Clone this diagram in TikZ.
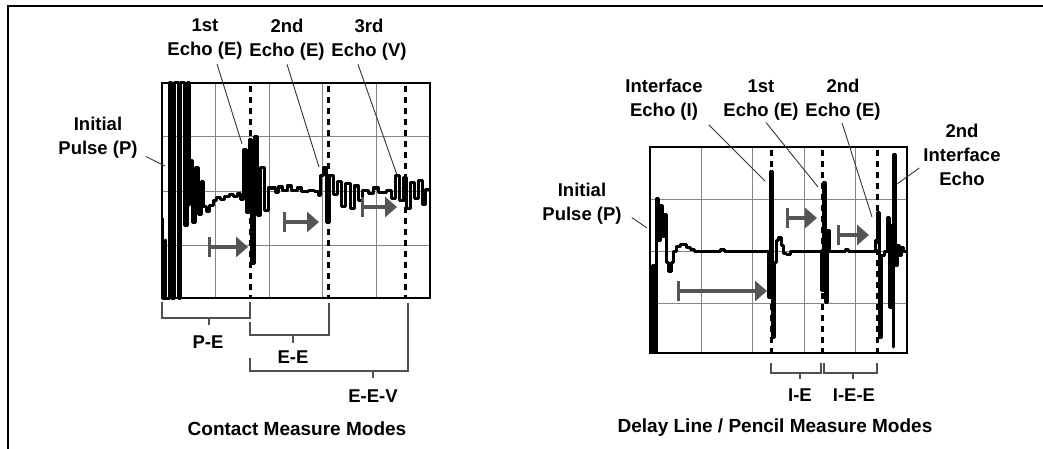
\documentclass[tikz,border=0pt]{standalone}
\usepackage{fontspec}
\setmainfont{Liberation Sans}
\usetikzlibrary{arrows.meta}
\definecolor{gridgray}{HTML}{858585}
\definecolor{arrowgray}{HTML}{555555}
\definecolor{brackgray}{HTML}{505050}
\tikzset {
  every node/.style={font=\bfseries\fontsize{18.5}{24}\selectfont, align=center, inner sep=0pt},
  heading/.style={font=\bfseries\fontsize{19}{23}\selectfont},
  gridline/.style={gridgray, line width=1pt},
  scopebox/.style={draw=black, line width=1.5pt},
  echomark/.style={line width=3pt, dash pattern=on 6pt off 5pt},
  signal/.style={line width=3pt, line join=round},
  travel/.style={arrowgray, line width=4.5pt,
    {Bar[width=20pt,line width=3pt]}-{Triangle[length=12pt,width=20pt]}},
  leader/.style={line width=0.9pt, black!80},
  bracket/.style={brackgray, line width=1.3pt},
}

\begin{document}
\begin{tikzpicture}[x=1pt,y=-1pt]
  \useasboundingbox (0,0) rectangle (1043,449);
  \draw[line width=2.5pt] (8,449) -- (8,6) -- (1043,6);

  % contact scope
  \foreach \i in {1,...,4}
    \draw[gridline] (162+53.6*\i,83) -- ++(0,215);
  \foreach \y in {137,191,245}
    \draw[gridline] (162,\y) -- ++(268,0);
  \draw[signal] plot coordinates {
    (162,218) (162,298) (165.5,298) (165.5,240) (165.5,298) (169,298) (169,83) (171.5,83)
    (171.5,298) (174,298) (174,83) (178,83) (178,298) (180.5,298) (180.5,83) (184.5,83)
    (184.5,225) (187,225) (187,83) (189.5,83) (189.5,205) (189.5,161) (192.5,161) (192.5,222)
    (195.5,222) (195.5,168) (198.5,168) (198.5,214) (201,214) (201,182) (203.5,182) (203.5,206)
    (206,206) (206,211) (209,211) (209,205) (213,205) (213,200) (216,200) (216,197) (220,197)
    (220,199) (224,199) (224,196) (229,196) (229,194) (233,194) (233,196) (237,196) (237,193)
    (240,193) (240,199) (243,199)
    (243,150) (246,150) (246,212) (249,212) (249,140) (251,140) (251,263) (254,263)
    (254,137) (257,137) (257,215) (260,215) (260,168) (264,168) (264,210) (268,210)
    (268,188) (275,188) (275,192) (278,192) (278,187)
    (282,187) (282,190) (287,190) (287,186) (291,186) (291,190) (297,190) (297,188) (301,188)
    (301,191) (308,191) (308,190) (314,190) (314,191) (318,191) (318,195) (320,195)
    (320,176) (323,176) (323,168) (326,168) (326,222) (329,222) (329,176) (333,176)
    (333,194) (337,194) (337,182) (341,182) (341,206) (345,206) (345,184) (350,184)
    (350,208) (354,208) (354,186) (358,186) (358,200) (362,200) (362,190) (368,190)
    (368,193) (373,193) (373,188) (378,188) (378,192) (386,192) (386,190) (391,190)
    (391,198) (395,198) (395,176) (399,176) (399,200) (403,200) (403,178) (406,178)
    (406,208) (410,208) (410,183) (414,183) (414,198) (418,198) (418,181) (422,181)
    (422,204) (425,204) (425,189) (429,189)
  };
  \foreach \x in {250,328,405}
    \draw[echomark] (\x,86) -- (\x,298);
  \draw[travel] (208,247) -- (248,247);
  \draw[travel] (283,222) -- (319,222);
  \draw[travel] (361,207) -- (397,207);
  \draw[scopebox] (162,83) rectangle (430,298);

  \node (lfirst) at (205,39.5) {1st\\Echo (E)};
  \node (lsecond) at (287,39.5) {2nd\\Echo (E)};
  \node (lthird) at (369,39.5) {3rd\\Echo (V)};
  \node (linit) at (98,137.5) {Initial\\Pulse (P)};
  \coordinate (lfirstpk) at (242,144);
  \coordinate (lsecondpk) at (319,167);
  \coordinate (lthirdpk) at (397,175);
  \coordinate (linitpk) at (165,166);
  \draw[leader] ([xshift=12pt,yshift=-4pt]lfirst.south) -- (lfirstpk);
  \draw[leader] ([yshift=-4pt]lsecond.south) -- (lsecondpk);
  \draw[leader] ([xshift=-11pt,yshift=-4pt]lthird.south) -- (lthirdpk);
  \draw[leader] ([xshift=8pt,yshift=-19pt]linit.east) -- (linitpk);

  \draw[bracket] (162,302) -- (162,318) -- (250,318) -- (250,302);
  \draw[bracket] (209,318) -- (209,325);
  \draw[bracket] (250,322) -- (250,335) -- (329,335) -- (329,303);
  \draw[bracket] (293,335) -- (293,343);
  \draw[bracket] (250,358) -- (250,371) -- (408,371) -- (408,303);
  \draw[bracket] (373,371) -- (373,378);
  \node (pe) at (208,342) {P-E};
  \node (ee) at (293,357) {E-E};
  \node (eev) at (373,396) {E-E-V};
  \node[heading] (contact) at (297,429) {Contact Measure Modes};

  % delay line scope
  \foreach \i in {1,...,4}
    \draw[gridline] (650+51.4*\i,147) -- ++(0,206);
  \foreach \y in {199,251,303}
    \draw[gridline] (650,\y) -- ++(257,0);
  \draw[signal] plot coordinates {
    (650,265) (650,352) (652,352) (652,265) (654,265) (654,352) (656,352) (656,198)
    (658,198) (658,240) (660,240) (660,205) (662,205) (662,236) (664,236) (664,214)
    (666,214) (666,262) (668,262) (668,271) (671,271) (671,262) (673,262) (673,251)
    (676,251) (676,246) (680,246) (680,244) (686,244) (686,247) (690,247) (690,249)
    (694,249) (694,251) (720,251) (720,249) (724,249) (724,251)
    (768,251) (768,297) (770,297) (770,172) (772,172) (772,337) (774,337) (774,262)
    (776,262) (776,240) (778,240) (778,237) (781,237) (781,245) (783,245) (783,253)
    (786,253) (786,254) (790,254) (790,251) (821,251) (821,290) (823,290)
    (823,183) (825,183) (825,302) (827,302) (827,230) (829,230) (829,251)
    (845,251) (845,249) (848,249) (848,251) (875,251) (875,240) (877,240)
    (877,212) (879,212) (879,337) (881,337) (881,255) (884,255)
    (884,251) (887,251) (887,217) (889,217) (889,307) (891,307) (891,225) (893,225)
    (893,347) (893,155) (895,155) (895,265) (897,265) (897,245) (899,245)
    (899,255) (901,255) (901,247) (903,247) (903,251) (907,251)
  };
  \foreach \x in {771,822,877}
    \draw[echomark] (\x,150) -- (\x,353);
  \draw[travel] (677,291) -- (767,291);
  \draw[travel] (786,218) -- (817,218);
  \draw[travel] (837,235) -- (869,235);
  \draw[scopebox] (650,147) rectangle (907,353);

  \node (rinter) at (664,100) {Interface\\Echo (I)};
  \node (rfirst) at (761,100) {1st\\Echo (E)};
  \node (rsecond) at (843,100) {2nd\\Echo (E)};
  \node (rinter2) at (962,155) {2nd\\Interface\\Echo};
  \node (rinit) at (582,203.5) {Initial\\Pulse (P)};
  \coordinate (rinterpk) at (765,181);
  \coordinate (rfirstpk) at (818,187);
  \coordinate (rsecondpk) at (872,217);
  \coordinate (rinter2pk) at (897,184);
  \coordinate (rinitpk) at (647,228);
  \draw[leader] ([xshift=6pt,yshift=-4pt]rinter.south east) -- (rinterpk);
  \draw[leader] ([xshift=5pt,yshift=-2pt]rfirst.south) -- (rfirstpk);
  \draw[leader] ([xshift=-1pt,yshift=-2pt]rsecond.south) -- (rsecondpk);
  \draw[leader] ([xshift=-4pt,yshift=-13pt]rinter2.west) -- (rinter2pk);
  \draw[leader] ([xshift=10pt,yshift=-14pt]rinit.east) -- (rinitpk);

  \draw[bracket] (771,363) -- (771,373) -- (821,373) -- (821,363);
  \draw[bracket] (800,373) -- (800,379);
  \draw[bracket] (824,363) -- (824,373) -- (877,373) -- (877,363);
  \draw[bracket] (853,373) -- (853,379);
  \node (ie) at (800,395) {I-E};
  \node (iee) at (854,395) {I-E-E};
  \node[heading] (delay) at (775,428) {Delay Line / Pencil Measure Modes};
\end{tikzpicture}
\end{document}
